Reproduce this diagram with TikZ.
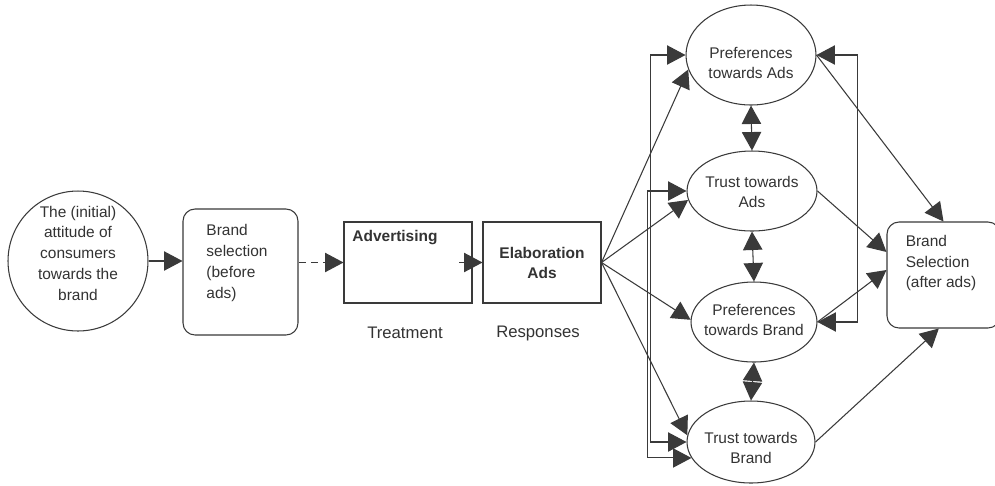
\documentclass[tikz,border=0pt]{standalone}
\usepackage{fontspec}
\setmainfont{Liberation Sans}
\usetikzlibrary{arrows.meta,shapes.geometric,calc}
\definecolor{ink}{HTML}{333333}
\definecolor{lineink}{HTML}{3A3A3A}
\begin{document}
\begin{tikzpicture}[x=0.02cm,y=-0.02cm,
 every node/.style={font=\fontsize{8.8}{11.8}\selectfont, text=ink},
 ln/.style={draw=lineink, line width=0.6pt},
 tip/.style={-{Triangle[length=10.5pt,width=11pt]}},
 dtip/.style={{Triangle[length=10.5pt,width=11pt]}-{Triangle[length=10.5pt,width=11pt]}},
 ell/.style={ellipse, draw=lineink, line width=0.6pt, inner sep=0pt},
 box/.style={rectangle, draw=lineink, line width=0.6pt, inner sep=0pt},
 lbl/.style={align=center, inner sep=0pt},
 lbll/.style={align=left, inner sep=0pt},
]
\clip (0,0) rectangle (995,485);
\fill[white] (0,0) rectangle (995,485);

% nodes
\node[circle, draw=lineink, line width=0.6pt, minimum size=2.8cm, inner sep=0pt] (circ) at (78,261) {};
\node[lbl] (circt) at (78,253) {The (initial)\\attitude of\\consumers\\towards the\\brand};

\node[box, rounded corners=0.24cm, minimum width=2.3cm, minimum height=2.52cm] (bsel) at (240.5,272) {};
\node[lbll] (bselt) at (237,263) {Brand\\selection\\(before\\ads)};

\node[box, minimum width=2.56cm, minimum height=1.62cm] (adv) at (408,262.5) {};
\node[lbl, font=\fontsize{8.8}{11.8}\selectfont\bfseries] (advt) at (395,238) {Advertising};

\node[box, minimum width=2.36cm, minimum height=1.62cm] (elab) at (542,262.5) {};
\node[lbl, font=\fontsize{8.8}{11.8}\selectfont\bfseries] (elabt) at (542,263) {Elaboration\\Ads};

\node[lbl, font=\fontsize{9.5}{12}\selectfont] (treat) at (405,333) {Treatment};
\node[lbl, font=\fontsize{9.5}{12}\selectfont] (resp) at (538,333) {Responses};

\node[ell, minimum width=2.6cm, minimum height=2.0cm] (prefA) at (751,55) {};
\node[lbl] (prefAt) at (751,63) {Preferences\\towards Ads};

\node[ell, minimum width=2.6cm, minimum height=1.6cm] (trustA) at (752,191) {};
\node[lbl] (trustAt) at (752,192) {Trust towards\\Ads};

\node[ell, minimum width=2.52cm, minimum height=1.6cm] (prefB) at (754,322) {};
\node[lbl] (prefBt) at (754,320) {Preferences\\towards Brand};

\node[ell, minimum width=2.56cm, minimum height=1.64cm] (trustB) at (751,442) {};
\node[lbl] (trustBt) at (751,448) {Trust towards\\Brand};

\node[box, rounded corners=0.24cm, minimum width=2.26cm, minimum height=2.12cm] (bsa) at (943.5,275) {};
\node[lbll] (bsat) at (941,263) {Brand\\Selection\\(after ads)};

% connectors
\draw[ln,tip] (circ.east) -- (bsel.west |- circ.east);
\draw[ln,tip,dash pattern=on 4pt off 3pt] (bsel.east |- adv.west) -- (adv.west);
\coordinate (advout) at (459,262.5);
\draw[ln,tip] (advout) -- (elab.west);

\foreach \t/\a in {prefA/193, trustA/188, prefB/178, trustB/174}
  \draw[ln,tip] (elab.east) -- (\t.\a);

\draw[ln,dtip] (prefA.west) -- ++(-35,0) |- (trustB.west);
\draw[ln,dtip] (trustA.west) -- ++(-39,0) |- (trustB.195);
\draw[ln,dtip] (prefA.east) -- ++(41,0) |- (prefB.east);

\draw[ln,dtip] (prefA.south) -- (trustA.north);
\draw[ln,dtip] (trustA.south) -- (prefB.north);
\draw[ln,dtip] (prefB.south) -- (trustB.north);

\draw[ln,tip] (prefA.east) -- (bsa.north);
\draw[ln,tip] (trustA.east) -- (bsa.158);
\draw[ln,tip] (prefB.east) -- (bsa.175);
\draw[ln,tip] (trustB.east) -- (bsa.265);
\end{tikzpicture}
\end{document}
